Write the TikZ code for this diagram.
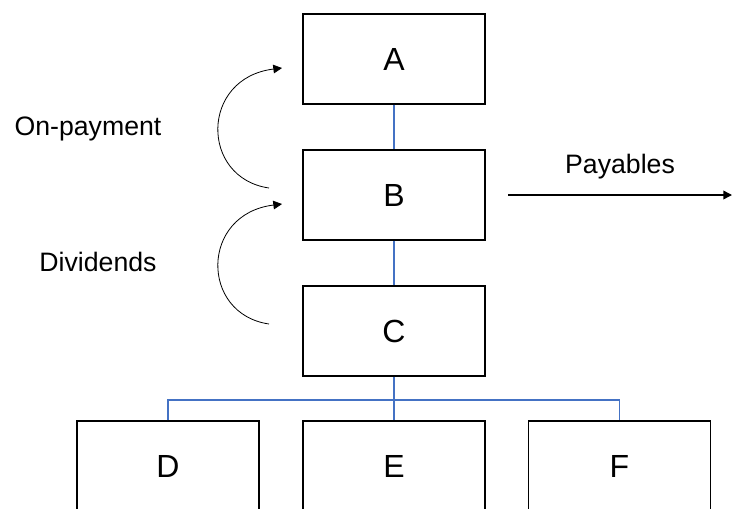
\documentclass[tikz,border=0pt]{standalone}
\usepackage{fontspec}
\setmainfont{Liberation Sans}
\usetikzlibrary{arrows.meta}
\definecolor{linkblue}{HTML}{4472C4}
\tikzset{
  box/.style={draw, line width=1.1pt, minimum width=136.5pt, minimum height=67.5pt, inner sep=0pt,
    font=\fontsize{24}{28}\selectfont},
  link/.style={draw=linkblue, line width=1.2pt},
  flow/.style={-{Triangle[length=6.5pt,width=6.5pt]}, line width=0.6pt},
}
\begin{document}
\begin{tikzpicture}[x=0.75pt,y=-0.75pt,font=\fontsize{20}{24}\selectfont]
\clip (0,0) rectangle (732,508);
\node [box] (A) at (394,59) {A};
\node [box] (B) at (394,195) {B};
\node [box] (C) at (394,331) {C};
\node [box] (D) at (168,466) {D};
\node [box] (E) at (394,466) {E};
\node [box] (F) at (619.5,466) {F};
% blue lines of the tree
\draw [link] (A) -- (B);
\draw [link] (B) -- (C);
\draw [link] (C.south) -- ++(0,23.5) coordinate (fork);
\draw [link] (D.north) |- (fork) -| (F.north);
\draw [link] (fork) -- (E.north);
% curved arrows on the left
\coordinate (onpayS) at (269,188);
\coordinate (onpayE) at (282,68);
\draw [flow] (onpayS) .. controls (200,178) and (200,78) .. (onpayE);
\node (onpay) at (88,129) {On-payment};
\coordinate (dividS) at (269,324);
\coordinate (dividE) at (282,204);
\draw [flow] (dividS) .. controls (200,314) and (200,214) .. (dividE);
\node (divid) at (98,262) {Dividends};
% payables
\coordinate (payS) at (508,195);
\coordinate (payE) at (732,195);
\draw [flow, line width=1.1pt] (payS) -- (payE);
\node (paylbl) at (620,167) {Payables};
\end{tikzpicture}
\end{document}
